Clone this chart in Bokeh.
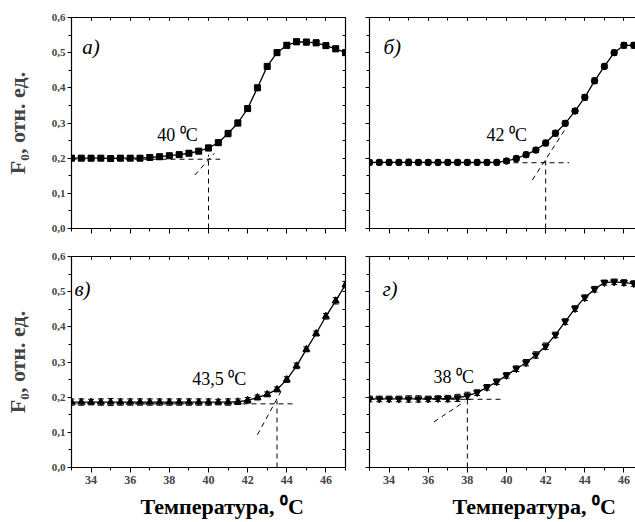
from bokeh.plotting import figure
from bokeh.layouts import column, row
from bokeh.models import (Range1d, FixedTicker, LinearAxis, CustomJSTickFormatter,
                          Whisker, TeeHead, ColumnDataSource, Title)
from bokeh.core.properties import value
from bokeh.embed import file_html
from bokeh.resources import INLINE

# ---------------- data ----------------
temp = [33.0, 33.5, 34.0, 34.5, 35.0, 35.5, 36.0, 36.5, 37.0, 37.5, 38.0, 38.5, 39.0, 39.5,
        40.0, 40.5, 41.0, 41.5, 42.0, 42.5, 43.0, 43.5, 44.0, 44.5, 45.0, 45.5, 46.0, 46.5, 47.0]

f0_a = [0.200, 0.200, 0.200, 0.200, 0.199, 0.200, 0.200, 0.200, 0.202, 0.204, 0.207, 0.210, 0.214, 0.220,
        0.229, 0.244, 0.270, 0.300, 0.341, 0.400, 0.461, 0.500, 0.521, 0.531, 0.530, 0.528, 0.520, 0.511, 0.500]
err_a = [0.006, 0.006, 0.007, 0.006, 0.008, 0.007, 0.006, 0.006, 0.006, 0.007, 0.006, 0.007, 0.007, 0.007,
         0.008, 0.007, 0.009, 0.008, 0.007, 0.007, 0.008, 0.008, 0.008, 0.008, 0.008, 0.008, 0.008, 0.008, 0.008]

f0_b = [0.188, 0.188, 0.188, 0.188, 0.188, 0.188, 0.188, 0.188, 0.188, 0.188, 0.188, 0.188, 0.188, 0.188,
        0.192, 0.199, 0.210, 0.223, 0.243, 0.271, 0.299, 0.334, 0.373, 0.420, 0.461, 0.500, 0.521, 0.521, 0.520]
err_b = [0.007, 0.007, 0.007, 0.007, 0.009, 0.007, 0.007, 0.007, 0.007, 0.007, 0.007, 0.007, 0.007, 0.007,
         0.007, 0.007, 0.007, 0.007, 0.008, 0.008, 0.007, 0.007, 0.008, 0.008, 0.007, 0.007, 0.008, 0.008, 0.008]

f0_c = [0.186, 0.186, 0.186, 0.186, 0.186, 0.186, 0.186, 0.186, 0.186, 0.186, 0.186, 0.186, 0.186, 0.186,
        0.186, 0.186, 0.186, 0.187, 0.191, 0.199, 0.208, 0.222, 0.250, 0.289, 0.336, 0.381, 0.430, 0.474, 0.520]
err_c = [0.009, 0.009, 0.008, 0.009, 0.010, 0.009, 0.009, 0.009, 0.009, 0.009, 0.009, 0.009, 0.009, 0.009,
         0.009, 0.008, 0.009, 0.008, 0.008, 0.007, 0.007, 0.007, 0.008, 0.008, 0.007, 0.007, 0.008, 0.009, 0.009]

f0_d = [0.195, 0.195, 0.195, 0.195, 0.195, 0.195, 0.195, 0.196, 0.196, 0.198, 0.204, 0.213, 0.228, 0.244,
        0.262, 0.281, 0.298, 0.320, 0.345, 0.377, 0.415, 0.452, 0.483, 0.507, 0.526, 0.528, 0.526, 0.523, 0.520]
err_d = [0.008, 0.008, 0.008, 0.008, 0.009, 0.009, 0.008, 0.008, 0.009, 0.010, 0.010, 0.008, 0.008, 0.008,
         0.008, 0.008, 0.009, 0.009, 0.009, 0.008, 0.008, 0.008, 0.008, 0.008, 0.007, 0.008, 0.008, 0.008, 0.008]

# dashed construction lines: horizontal baseline, vertical at transition, tangent
base_a = ([33.0, 40.6], [0.197, 0.197]); vert_a = ([40.0, 40.0], [0.0, 0.21]); tang_a = ([39.3, 40.3], [0.152, 0.214])
base_b = ([33.0, 43.2], [0.187, 0.187]); vert_b = ([42.0, 42.0], [0.0, 0.20]); tang_b = ([41.32, 43.03], [0.138, 0.285])
base_c = ([33.0, 44.4], [0.181, 0.181]); vert_c = ([43.5, 43.5], [0.0, 0.19]); tang_c = ([42.5, 43.7], [0.093, 0.216])
base_d = ([33.0, 39.7], [0.194, 0.194]); vert_d = ([38.0, 38.0], [0.0, 0.196]); tang_d = ([36.3, 37.85], [0.13, 0.187])

tr_labels = ["40 \u2070C", "42 \u2070C", "43,5 \u2070C", "38 \u2070C"]
tr_label_pos = [(37.38, 0.266), (38.98, 0.266), (39.17, 0.251), (36.27, 0.256)]
panel_labels = ["а)", "б)", "в)", "г)"]
panel_label_pos = [(33.55, 0.517), (33.71, 0.517), (33.15, 0.509), (33.66, 0.509)]

x_major = [34, 36, 38, 40, 42, 44, 46]
x_minor = [33, 34, 35, 36, 37, 38, 39, 40, 41, 42, 43, 44, 45, 46, 47]
y_major = [0.0, 0.1, 0.2, 0.3, 0.4, 0.5, 0.6]
y_minor = [0.05, 0.15, 0.25, 0.35, 0.45, 0.55]

y_title = "F\u2080, отн. ед."
x_title = "Температура, \u2070C"

SERIF = "Liberation Serif"
comma_fmt = "return tick.toFixed(1).replace('.', ',');"
blank_fmt = "return '';"


def panel(idx, fy, err, marker, msize, base, vert, tang, *, left, right, top, bottom,
          fw, x_end, xlabels, ylabels, right_axis, x_title_offset=None):
    p = figure(frame_width=fw, frame_height=211, x_range=Range1d(33, x_end), y_range=Range1d(0, 0.6),
               output_backend="svg", toolbar_location=None,
               min_border_left=left, min_border_right=right, min_border_top=top, min_border_bottom=bottom,
               x_axis_location=None, y_axis_location=None)
    p.outline_line_color = None
    p.background_fill_color = "white"
    p.border_fill_color = "white"
    p.xgrid.visible = False
    p.ygrid.visible = False

    # bottom axis
    xb = LinearAxis(ticker=FixedTicker(ticks=x_major, minor_ticks=x_minor),
                    formatter=CustomJSTickFormatter(code="return tick.toFixed(0);" if xlabels else blank_fmt))
    xb.major_tick_in = 0; xb.major_tick_out = 5; xb.minor_tick_in = 0; xb.minor_tick_out = 3
    xb.major_label_text_font = SERIF; xb.major_label_text_font_style = "bold"
    xb.major_label_text_font_size = "12px"; xb.major_label_standoff = 3
    xb.axis_line_width = 1.2
    p.add_layout(xb, "below")
    if x_title_offset is not None:
        p.add_layout(Title(text=x_title, text_font=SERIF, text_font_size="22px", text_font_style="bold",
                           text_color="black", align="left", offset=x_title_offset, standoff=10), "below")
    # top axis (mirror)
    xt = LinearAxis(ticker=FixedTicker(ticks=x_major, minor_ticks=x_minor),
                    formatter=CustomJSTickFormatter(code=blank_fmt))
    xt.major_tick_in = 3; xt.major_tick_out = 0; xt.minor_tick_in = 3; xt.minor_tick_out = 0
    xt.major_label_standoff = 0; xt.axis_line_width = 1.2
    p.add_layout(xt, "above")
    # left axis
    yl = LinearAxis(ticker=FixedTicker(ticks=y_major, minor_ticks=y_minor),
                    formatter=CustomJSTickFormatter(code=comma_fmt if ylabels else blank_fmt))
    yl.major_tick_in = 0; yl.major_tick_out = 4; yl.minor_tick_in = 0; yl.minor_tick_out = 3
    yl.major_label_text_font = SERIF; yl.major_label_text_font_style = "bold"
    yl.major_label_text_font_size = "11px"; yl.major_label_standoff = 2
    yl.axis_line_width = 1.2
    if ylabels:
        yl.axis_label = y_title
        yl.axis_label_text_font = SERIF
        yl.axis_label_text_font_style = "bold"
        yl.axis_label_text_font_size = "22px"
        yl.axis_label_standoff = 19
    p.add_layout(yl, "left")
    if right_axis:
        yr = LinearAxis(ticker=FixedTicker(ticks=y_major, minor_ticks=y_minor),
                        formatter=CustomJSTickFormatter(code=blank_fmt))
        yr.major_tick_in = 3; yr.major_tick_out = 0; yr.minor_tick_in = 3; yr.minor_tick_out = 0
        yr.major_label_standoff = 0; yr.axis_line_width = 1.2
        p.add_layout(yr, "right")

    # dashed construction lines
    for (lx, ly) in (base, vert, tang):
        p.line(lx, ly, line_color="black", line_width=1, line_dash="5 4")

    src = ColumnDataSource(dict(x=temp, y=fy,
                                lo=[v - e for v, e in zip(fy, err)],
                                hi=[v + e for v, e in zip(fy, err)]))
    p.line("x", "y", source=src, line_color="black", line_width=1.3)
    p.add_layout(Whisker(source=src, base="x", lower="lo", upper="hi", line_color="black", line_width=1,
                         lower_head=TeeHead(size=6, line_color="black", line_width=1),
                         upper_head=TeeHead(size=6, line_color="black", line_width=1)))
    p.scatter("x", "y", source=src, marker=marker, size=msize, fill_color="black", line_color="black")

    tx, ty = tr_label_pos[idx]
    p.text(x=[tx], y=[ty], text=[tr_labels[idx]], text_font=value(SERIF), text_font_size="18px",
           text_color="black", text_baseline="alphabetic", text_align="left")
    lx_, ly_ = panel_label_pos[idx]
    p.text(x=[lx_], y=[ly_], text=[panel_labels[idx]], text_font=value(SERIF), text_font_size="21px",
           text_font_style="italic", text_color="black", text_baseline="alphabetic", text_align="left")
    return p


pa = panel(0, f0_a, err_a, "square", 6, base_a, vert_a, tang_a, left=71, right=12, top=17, bottom=14,
           fw=274, x_end=47, xlabels=False, ylabels=True, right_axis=True)
pb = panel(1, f0_b, err_b, "circle", 6.5, base_b, vert_b, tang_b, left=12, right=0, top=17, bottom=14,
           fw=266, x_end=46.59, xlabels=False, ylabels=False, right_axis=False)
pc = panel(2, f0_c, err_c, "triangle", 7, base_c, vert_c, tang_c, left=71, right=12, top=14, bottom=55,
           fw=274, x_end=47, xlabels=True, ylabels=True, right_axis=True, x_title_offset=69)
pd = panel(3, f0_d, err_d, "inverted_triangle", 7, base_d, vert_d, tang_d, left=12, right=0, top=14, bottom=55,
           fw=266, x_end=46.59, xlabels=True, ylabels=False, right_axis=False, x_title_offset=83)

layout = column(row(pa, pb), row(pc, pd))
open("out.html", "w").write(file_html(layout, INLINE))
